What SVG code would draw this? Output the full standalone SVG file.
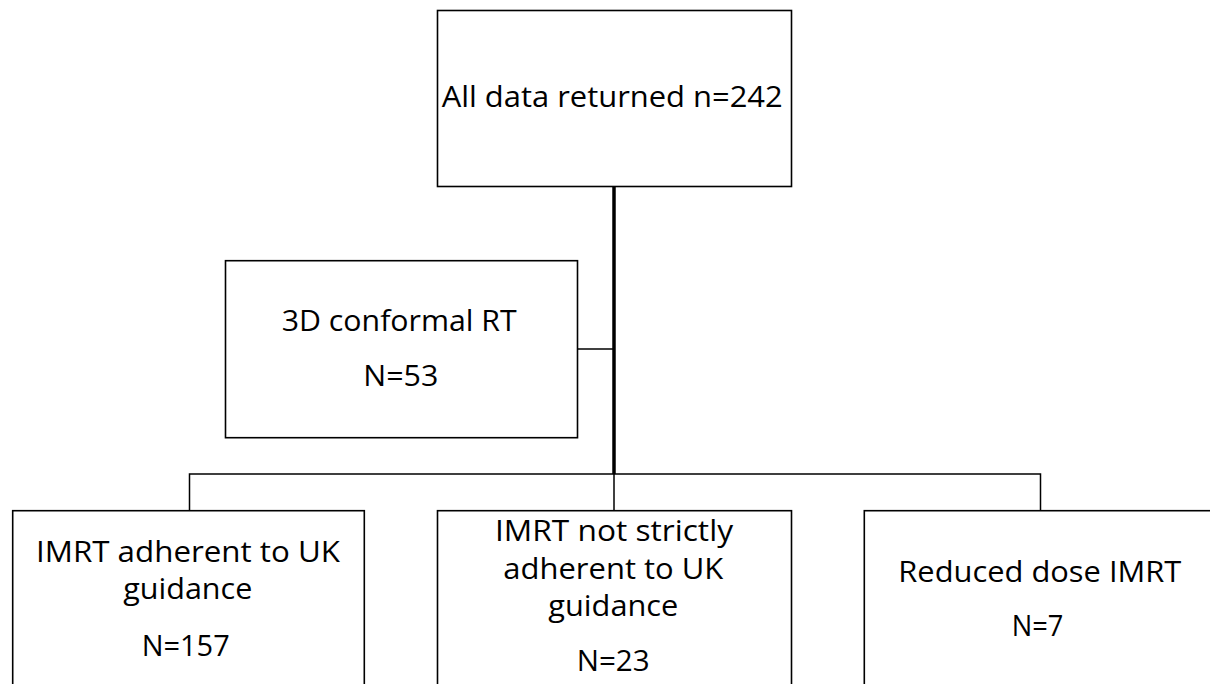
<svg xmlns="http://www.w3.org/2000/svg" width="1210" height="684" viewBox="0 0 1210 684">
<style>
.box{fill:#fff;stroke:#000;stroke-width:1.6}
.ln{fill:none;stroke:#000;stroke-width:1.5}
.thick{fill:none;stroke:#000;stroke-width:3.5}
text{font-family:"Open Sans","Noto Sans",sans-serif;font-size:30px;fill:#000}
</style>
<rect width="1210" height="684" fill="#fff"/>
<g id="connectors">
<line class="thick" x1="614" y1="186" x2="614" y2="474"/>
<line class="ln" x1="577.7" y1="349" x2="614" y2="349"/>
<polyline class="ln" points="189.5,511 189.5,474 1040.5,474 1040.5,511"/>
<line class="ln" x1="614" y1="474" x2="614" y2="511"/>
</g>
<g id="n_all">
<rect class="box" x="437.5" y="10.5" width="354" height="176"/>
<text x="441.7" y="107.3" textLength="341" lengthAdjust="spacingAndGlyphs">All data returned n=242</text>
</g>
<g id="n_3d">
<rect class="box" x="225.5" y="260.7" width="352" height="177"/>
<text x="281.7" y="330.5" textLength="235" lengthAdjust="spacingAndGlyphs">3D conformal RT</text>
<text x="363.3" y="386" textLength="75" lengthAdjust="spacingAndGlyphs">N=53</text>
</g>
<g id="n_adh">
<rect class="box" x="12.7" y="510.7" width="351.6" height="200"/>
<text x="36" y="561.7" textLength="304" lengthAdjust="spacingAndGlyphs">IMRT adherent to UK</text>
<text x="123.3" y="599" textLength="129" lengthAdjust="spacingAndGlyphs">guidance</text>
<text x="141.7" y="656" textLength="88" lengthAdjust="spacingAndGlyphs">N=157</text>
</g>
<g id="n_not">
<rect class="box" x="437.5" y="510.7" width="354" height="200"/>
<text x="495" y="540.7" textLength="238" lengthAdjust="spacingAndGlyphs">IMRT not strictly</text>
<text x="503.3" y="579" textLength="220" lengthAdjust="spacingAndGlyphs">adherent to UK</text>
<text x="548.3" y="616" textLength="130" lengthAdjust="spacingAndGlyphs">guidance</text>
<text x="576.7" y="671" textLength="73" lengthAdjust="spacingAndGlyphs">N=23</text>
</g>
<g id="n_red">
<rect class="box" x="864.3" y="510.7" width="352" height="200"/>
<text x="898.3" y="581.7" textLength="283" lengthAdjust="spacingAndGlyphs">Reduced dose IMRT</text>
<text x="1011.7" y="636" textLength="51.6" lengthAdjust="spacingAndGlyphs">N=7</text>
</g>
</svg>
